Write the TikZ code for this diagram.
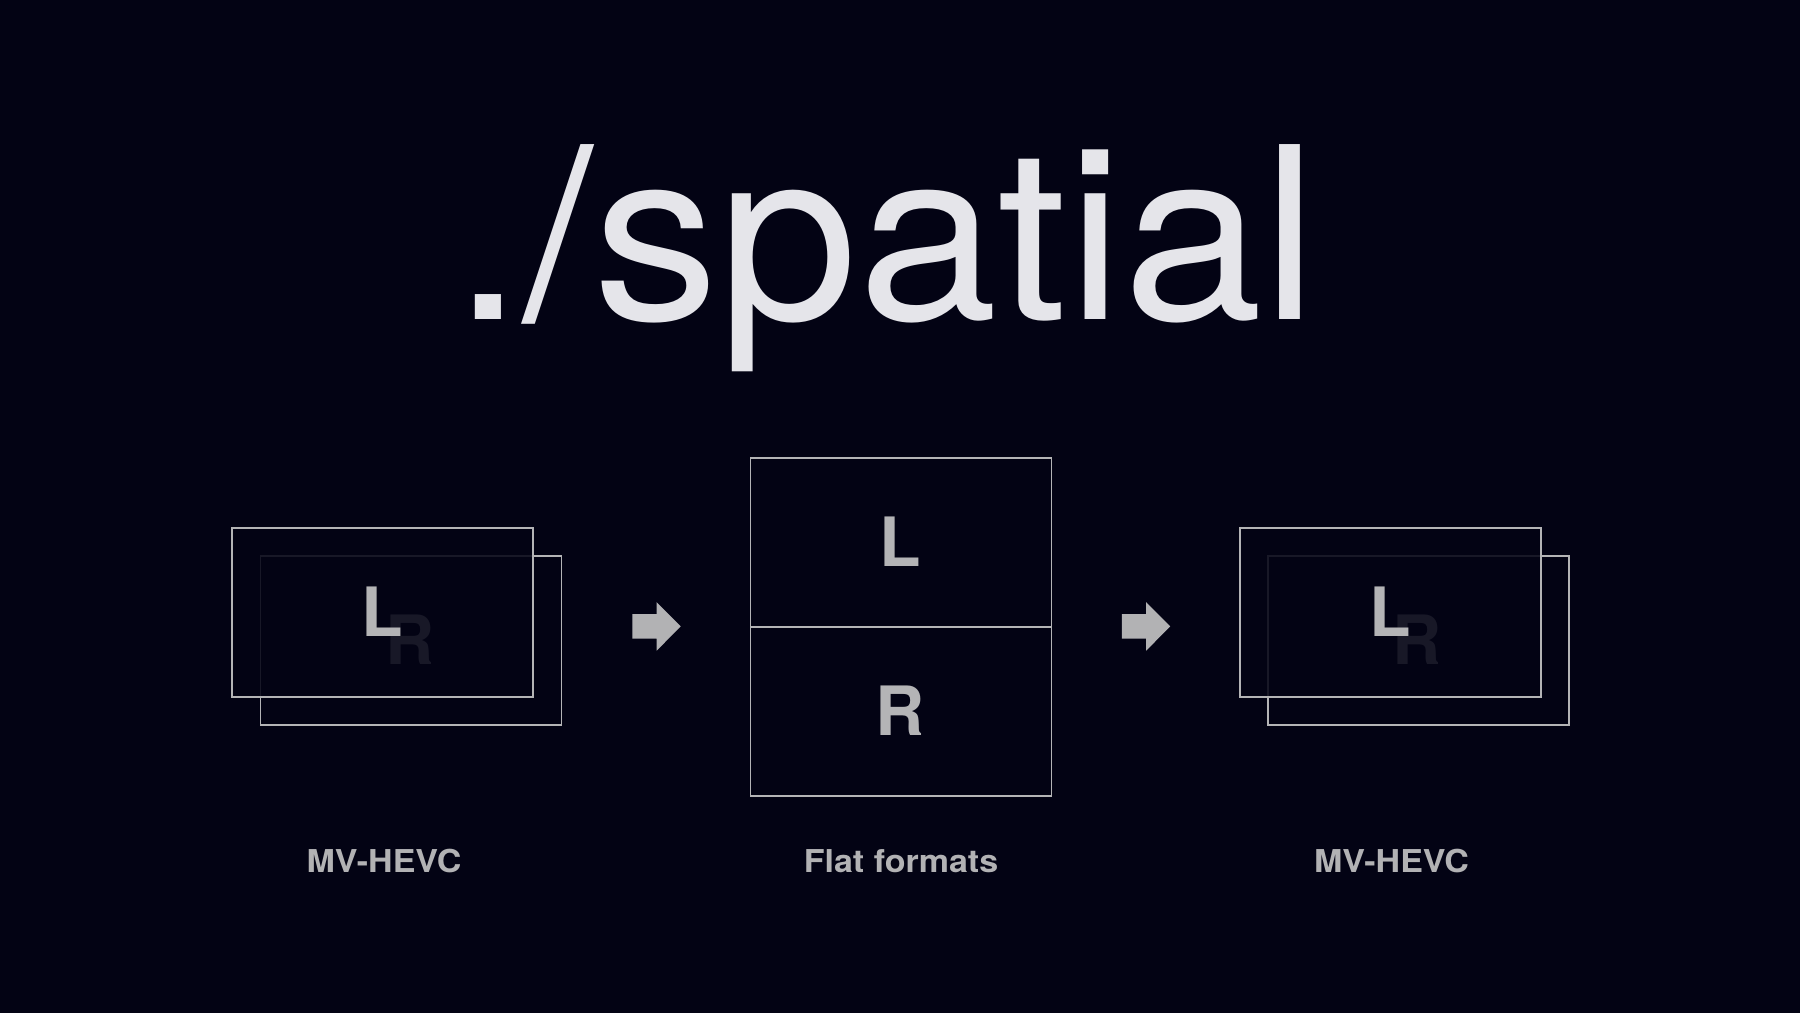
\documentclass[tikz,border=0pt]{standalone}
\usepackage{fontspec}
\setmainfont{TeX Gyre Heros}
\definecolor{bg}{HTML}{030314}
\definecolor{titlecol}{HTML}{E5E5EA}
\definecolor{linecol}{HTML}{B4B4B6}
\definecolor{lettercol}{HTML}{B4B4B6}
\definecolor{labelcol}{HTML}{B2B2B4}
\newcommand{\widelabel}[1]{\scalebox{1.08}[1]{#1}}
\begin{document}
\begin{tikzpicture}[x=1pt,y=-1pt,
  frame/.style={draw=linecol,line width=1.7pt,minimum width=301pt,minimum height=169pt,inner sep=0pt,outer sep=0pt},
  frontframe/.style={frame,fill=bg,fill opacity=0.88},
  letter/.style={text=lettercol,anchor=base,inner sep=0pt,font=\fontsize{68}{68}\selectfont\bfseries},
  label/.style={text=labelcol,anchor=base,inner sep=0pt,font=\fontsize{31.5}{31.5}\selectfont\bfseries},
  blockarrow/.style={fill=labelcol}
]
\useasboundingbox (0,0) rectangle (1800,1013);
\fill[bg] (0,0) rectangle (1800,1013);

% title
\node[anchor=base,inner sep=0pt,text=titlecol,font=\fontsize{240}{240}\selectfont] (title) at (886,319) {\scalebox{1.045}[1]{./spatial}};

% left group
\node[frame] (lb) at (411,640.3) {};
\node[letter] (lR) at (410,664) {R};
\node[frontframe] (lf) at (382.8,612.2) {};
\node[letter] (lL) at (382.5,636) {L};
\node[label] (llab) at (384,872) {\widelabel{MV-HEVC}};

% middle group
\node[frame,anchor=south] (mt) at (901,627) {};
\node[frame,anchor=north] (mb) at (901,627) {};
\node[letter] (mL) at (900.5,566.7) {L};
\node[letter] (mR) at (900,735.3) {R};
\node[label] (mlab) at (901,872) {\widelabel{Flat formats}};

% right group
\node[frame] (rb) at (1418.4,640.3) {};
\node[letter] (rR) at (1417.5,664) {R};
\node[frontframe] (rf) at (1390.2,612.2) {};
\node[letter] (rL) at (1390,636) {L};
\node[label] (rlab) at (1391.5,872) {\widelabel{MV-HEVC}};

% arrows
\coordinate (a1) at (656.7,626.5);
\coordinate (a2) at (1146.2,626.5);
\foreach \c in {a1,a2}{
  \fill[blockarrow] (\c) ++(-24.4,-12.3) -- ++(24.4,0) -- ++(0,-12) -- ++(24,24.2) -- ++(-24,24.2) -- ++(0,-12) -- ++(-24.4,0) -- cycle;
}
\end{tikzpicture}
\end{document}
